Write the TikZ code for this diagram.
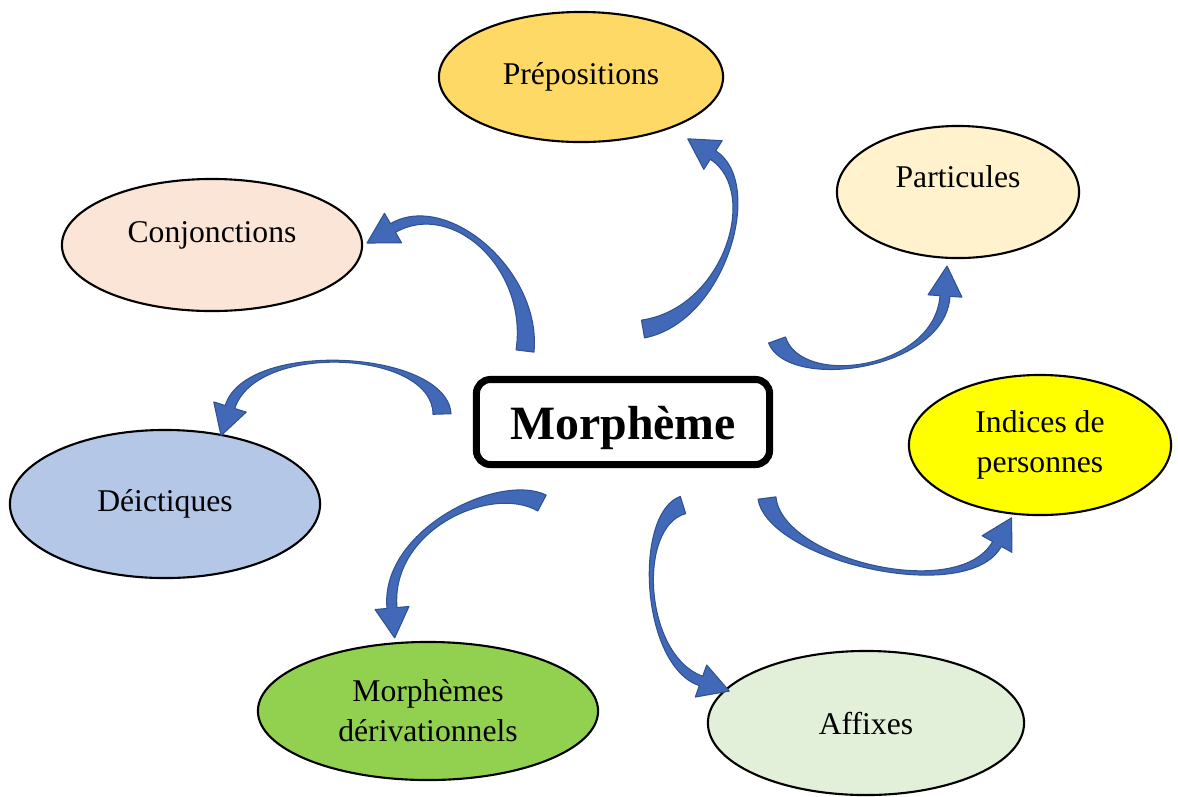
\documentclass[tikz,border=0pt]{standalone}
\usepackage{fontspec}
\setmainfont{Liberation Serif}
\usetikzlibrary{shapes.geometric,calc}
\definecolor{prepcol}{HTML}{FFD966}
\definecolor{partcol}{HTML}{FFF2CC}
\definecolor{conjcol}{HTML}{FBE5D6}
\definecolor{indcol}{HTML}{FFFF00}
\definecolor{deiccol}{HTML}{B4C7E7}
\definecolor{derivcol}{HTML}{92D050}
\definecolor{affcol}{HTML}{E2F0D9}
\definecolor{arrowfill}{HTML}{4169B8}
\definecolor{arrowedge}{HTML}{2F528F}
% curved block arrow: #1-t tail, #1-a and #1-b controls, #1-h head base
\newcommand{\bentarrow}[1]{%
  \filldraw[bentarrow] ($(#1-t)!0.09cm!90:(#1-a)$)
    .. controls ($(#1-a)!0.07cm!-90:(#1-t)$) and ($(#1-b)!0.055cm!90:(#1-h)$) .. ($(#1-h)!0.05cm!-90:(#1-b)$)
    -- ($(#1-h)!0.17cm!-90:(#1-b)$) -- ($(#1-h)!0.30cm!180:(#1-b)$) -- ($(#1-h)!0.17cm!90:(#1-b)$)
    -- ($(#1-h)!0.05cm!90:(#1-b)$)
    .. controls ($(#1-b)!0.055cm!-90:(#1-h)$) and ($(#1-a)!0.07cm!90:(#1-t)$) .. ($(#1-t)!0.09cm!-90:(#1-a)$) -- cycle;}
\begin{document}
\begin{tikzpicture}[x=0.01cm, y=-0.01cm,
  bubble/.style={draw, ellipse, line width=0.6pt, inner sep=0pt, align=center,
    font=\fontsize{9}{11.4}\selectfont},
  bentarrow/.style={fill=arrowfill, draw=arrowedge, line width=0.3pt, line join=round}]
  \useasboundingbox (0,0) rectangle (1178,796);
  \node [bubble, fill=prepcol, minimum width=2.84cm, minimum height=1.30cm] (prep) at (581,77) {Prépositions};
  \node [bubble, fill=partcol, minimum width=2.42cm, minimum height=1.32cm, text depth=9pt] (part) at (958,192) {Particules};
  \node [bubble, fill=conjcol, minimum width=3.00cm, minimum height=1.32cm, text depth=7.5pt] (conj) at (212,245) {Conjonctions};
  \node [bubble, fill=indcol, minimum width=2.62cm, minimum height=1.40cm] (ind) at (1040,445) {Indices de\\personnes};
  \node [bubble, fill=deiccol, minimum width=3.10cm, minimum height=1.48cm] (deic) at (165,504) {Déictiques};
  \node [bubble, fill=derivcol, minimum width=3.40cm, minimum height=1.38cm] (deriv) at (428,711) {Morphèmes\\dérivationnels};
  \node [bubble, fill=affcol, minimum width=3.16cm, minimum height=1.44cm] (aff) at (866,723) {Affixes};
  \node [draw, line width=2pt, rounded corners=4pt, minimum width=2.93cm, minimum height=0.85cm, text height=13pt,
    font=\bfseries\fontsize{13.6}{16}\selectfont] (morph) at (623,422) {Morphème};
  \coordinate (prep-t) at (643,329);  \coordinate (prep-a) at (725,315);
  \coordinate (prep-b) at (763,187);  \coordinate (prep-h) at (713,155);
  \coordinate (conj-t) at (525,351);  \coordinate (conj-a) at (535,270);
  \coordinate (conj-b) at (450,195);  \coordinate (conj-h) at (393,228);
  \coordinate (deic-t) at (442,414);  \coordinate (deic-a) at (440,350);
  \coordinate (deic-b) at (251,340);  \coordinate (deic-h) at (230,407);
  \coordinate (part-t) at (777,340);  \coordinate (part-a) at (795,390);
  \coordinate (part-b) at (940,370);  \coordinate (part-h) at (945,296);
  \coordinate (ind-t) at (767,498);   \coordinate (ind-a) at (775,560);
  \coordinate (ind-b) at (963,605);   \coordinate (ind-h) at (997,544);
  \coordinate (deriv-t) at (542,503); \coordinate (deriv-a) at (495,478);
  \coordinate (deriv-b) at (385,530); \coordinate (deriv-h) at (392,608);
  \coordinate (aff-t) at (683,505);   \coordinate (aff-a) at (635,520);
  \coordinate (aff-b) at (642,660);   \coordinate (aff-h) at (701,681);
  \foreach \a in {prep,conj,deic,part,ind,deriv,aff} {\bentarrow{\a}}
\end{tikzpicture}
\end{document}
